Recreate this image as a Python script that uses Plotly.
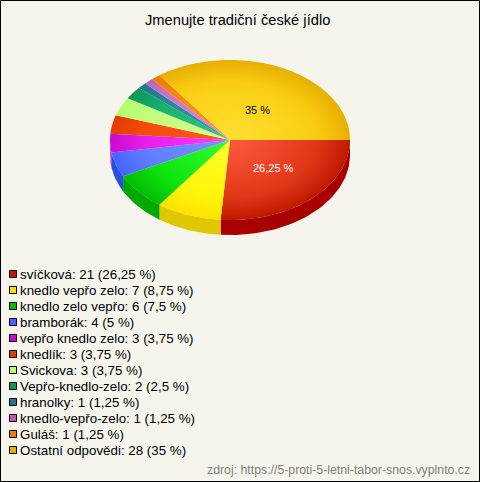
# -*- coding: utf-8 -*-

import math
import plotly.graph_objs as go

title = "Jmenujte tradiční české jídlo"
source = "zdroj: https://5-proti-5-letni-tabor-snos.vyplnto.cz"

labels = [
    "svíčková",
    "knedlo vepřo zelo",
    "knedlo zelo vepřo",
    "bramborák",
    "vepřo knedlo zelo",
    "knedlík",
    "Svickova",
    "Vepřo-knedlo-zelo",
    "hranolky",
    "knedlo-vepřo-zelo",
    "Guláš",
    "Ostatní odpovědi",
]
counts = [21, 7, 6, 4, 3, 3, 3, 2, 1, 1, 1, 28]

# colours of a slice: centre, halfway out, rim, side wall, legend box
inner_colors = [
    "rgb(255,90,60)", "rgb(255,255,40)", "rgb(50,255,50)", "rgb(120,150,255)",
    "rgb(255,60,255)", "rgb(255,90,30)", "rgb(215,255,145)", "rgb(50,200,130)",
    "rgb(50,150,170)", "rgb(225,135,225)", "rgb(255,150,20)", "rgb(255,225,50)",
]
mid_colors = [
    "rgb(225,55,25)", "rgb(255,245,10)", "rgb(15,225,15)", "rgb(95,125,255)",
    "rgb(230,30,235)", "rgb(245,75,10)", "rgb(195,255,125)", "rgb(25,175,110)",
    "rgb(40,135,155)", "rgb(205,115,205)", "rgb(245,135,5)", "rgb(250,205,20)",
]
outer_colors = [
    "rgb(190,25,0)", "rgb(255,225,0)", "rgb(0,190,0)", "rgb(70,100,255)",
    "rgb(200,10,210)", "rgb(225,60,0)", "rgb(180,255,110)", "rgb(10,150,90)",
    "rgb(30,120,140)", "rgb(190,100,190)", "rgb(235,125,0)", "rgb(230,175,0)",
]
side_colors = [
    "rgb(168,0,0)", "rgb(224,200,0)", "rgb(0,168,0)", "rgb(40,80,220)",
    "rgb(170,0,180)", "rgb(190,50,0)", "rgb(150,220,90)", "rgb(0,130,80)",
    "rgb(20,100,120)", "rgb(160,80,160)", "rgb(200,100,0)", "rgb(200,150,0)",
]
legend_colors = [
    "rgb(192,24,0)", "rgb(255,225,0)", "rgb(0,190,0)", "rgb(70,100,255)",
    "rgb(200,10,210)", "rgb(225,60,0)", "rgb(190,255,110)", "rgb(10,150,90)",
    "rgb(30,120,140)", "rgb(190,90,180)", "rgb(235,125,0)", "rgb(230,175,0)",
]

WIDTH = 480
HEIGHT = 482
CX = 230
CY = 140
RX = 120
RY = 80
DEPTH = 15


def percent_text(n, total):
    return "{:g}".format(100 * n / total).replace(".", ",")


def arc(start, stop, dy=0):
    steps = max(2, int(abs(stop - start) / 1.5))
    xs = []
    ys = []
    for i in range(steps + 1):
        a = math.radians(start + (stop - start) * i / steps)
        xs.append(CX + RX * math.cos(a))
        ys.append(CY + RY * math.sin(a) + dy)
    return xs, ys


def wedge_path(start, stop):
    # zero width spurs out to the ellipse extremes, so the radial gradient
    # of every slice is centred on the middle of the pie
    xs = [CX, CX + RX, CX, CX, CX, CX - RX, CX, CX, CX]
    ys = [CY, CY, CY, CY + RY, CY, CY, CY, CY - RY, CY]
    ax, ay = arc(start, stop)
    return xs + ax + [CX], ys + ay + [CY]


fig = go.Figure()
total = sum(counts)

angles = [0]
for n in counts:
    angles.append(angles[-1] + 360 * n / total)

# side walls only show on the front half
for i, n in enumerate(counts):
    start = angles[i]
    stop = min(angles[i + 1], 180)
    if start >= 180:
        continue
    tx, ty = arc(start, stop)
    bx, by = arc(stop, start, DEPTH)
    fig.add_trace(
        go.Scatter(
            x=tx + bx,
            y=ty + by,
            mode="lines",
            fill="toself",
            fillcolor=side_colors[i],
            line=dict(width=0),
            hoverinfo="skip",
        )
    )

for i, n in enumerate(counts):
    px, py = wedge_path(angles[i], angles[i + 1])
    fig.add_trace(
        go.Scatter(
            x=px,
            y=py,
            mode="lines",
            fill="toself",
            fillgradient=dict(
                type="radial",
                colorscale=[
                    [0, inner_colors[i]],
                    [0.72, mid_colors[i]],
                    [1, outer_colors[i]],
                ],
            ),
            line=dict(width=0, simplify=False),
            hoverinfo="skip",
        )
    )

# legend boxes
legend_y = [274 + 16 * i for i in range(len(labels))]
fig.add_trace(
    go.Scatter(
        x=[13] * len(labels),
        y=legend_y,
        mode="markers",
        marker=dict(
            symbol="square",
            size=7,
            color=legend_colors,
            line=dict(color="black", width=1),
        ),
        hoverinfo="skip",
    )
)

annotations = []
for i, n in enumerate(counts):
    annotations.append(
        dict(
            x=17.5,
            y=legend_y[i],
            text="{}: {} ({} %)".format(labels[i], n, percent_text(n, total)),
            xanchor="left",
            yanchor="middle",
            showarrow=False,
            font=dict(size=13.35, color="black"),
        )
    )

annotations.append(
    dict(x=237, y=20, text=title, xanchor="center", yanchor="middle",
         showarrow=False, font=dict(size=14.7, color="black"))
)
annotations.append(
    dict(x=257.5, y=110, text=percent_text(counts[11], total) + " %",
         xanchor="center", yanchor="middle", showarrow=False,
         font=dict(size=11, color="black"))
)
annotations.append(
    dict(x=273.5, y=168, text=percent_text(counts[0], total) + " %",
         xanchor="center", yanchor="middle", showarrow=False,
         font=dict(size=11, color="white"))
)
annotations.append(
    dict(x=471.5, y=470, text=source, xanchor="right", yanchor="middle",
         showarrow=False, font=dict(size=12.3, color="rgb(128,128,128)"))
)

layout_axis = dict(visible=False, fixedrange=True)
fig.update_layout(
    width=WIDTH,
    height=HEIGHT,
    margin=dict(l=0, r=0, t=0, b=0),
    showlegend=False,
    paper_bgcolor="rgb(245,245,237)",
    plot_bgcolor="rgb(245,245,237)",
    font=dict(family="Liberation Sans, Arial, sans-serif"),
    xaxis=dict(range=[0, WIDTH], **layout_axis),
    yaxis=dict(range=[HEIGHT, 0], **layout_axis),
    annotations=annotations,
    shapes=[
        dict(type="rect", x0=0.5, y0=0.5, x1=WIDTH - 0.5, y1=HEIGHT - 0.5,
             line=dict(color="black", width=1))
    ],
)

# the page's default body margin would push the chart off the window
fig.write_html(
    "out.html",
    config=dict(displayModeBar=False),
    post_script="document.body.style.margin='0';document.documentElement.style.overflow='hidden';",
)
